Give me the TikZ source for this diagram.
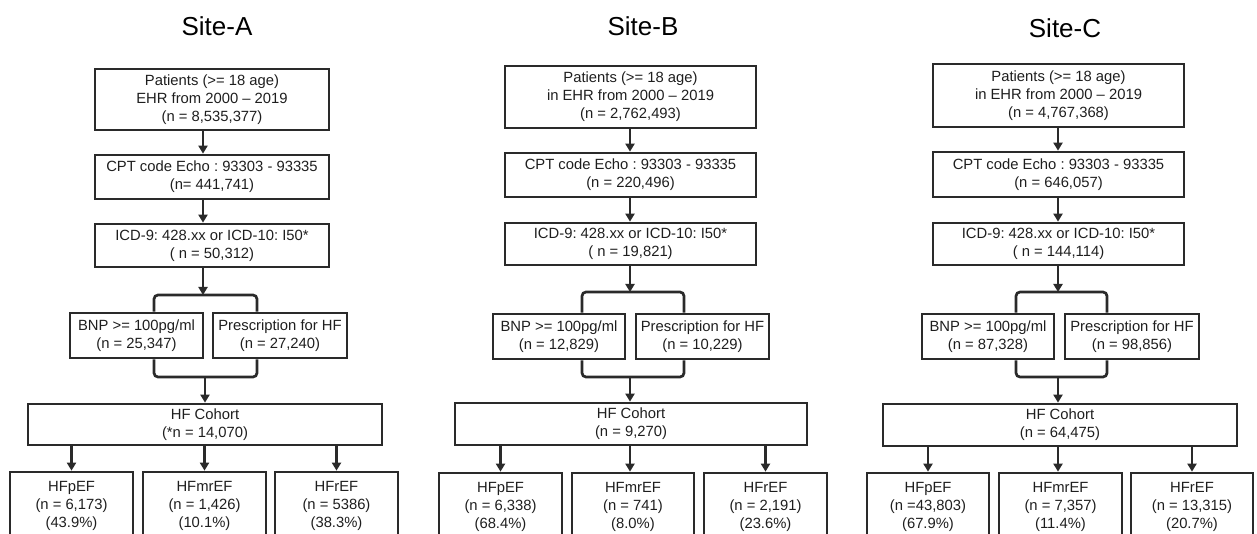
\documentclass[tikz,border=0pt]{standalone}
\usepackage{fontspec}
\setmainfont{Liberation Sans}
\usepackage{tikz}
\usetikzlibrary{arrows.meta,positioning,calc}
\frenchspacing
\definecolor{ink}{HTML}{1E1E1E}
\definecolor{frame}{HTML}{2A2A2A}
\tikzset{
    every picture/.style={line join=miter},
    flowbox/.style={draw=frame,line width=2.7pt,rectangle,inner sep=0pt,
      text=ink,align=center,font=\fontsize{14.8}{18}\selectfont},
    sitetitle/.style={text=black,font=\fontsize{26}{30}\selectfont,inner sep=0pt},
    link/.style={draw=frame,line width=2.7pt,rounded corners=4pt},
    arr/.style={-{Triangle[length=8pt,width=9pt]},draw=frame,line width=2.7pt}
}
\begin{document}
\begin{tikzpicture}[x=1pt,y=-1pt]
  \useasboundingbox (0,0) rectangle (1257,534);
  \clip (0,0) rectangle (1257,534);

  % Site-A
  \node[sitetitle] (titleA) at (217,26) {Site-A};
  \node[flowbox,minimum width=234pt,minimum height=61pt] (patA) at (212,99.5)
    {Patients (>= 18 age)\\EHR from 2000 – 2019\\(n = 8,535,377)};
  \node[flowbox,minimum width=234pt,minimum height=44pt] (cptA) at (212,177)
    {CPT code Echo : 93303 - 93335\\(n= 441,741)};
  \node[flowbox,minimum width=234pt,minimum height=43pt] (icdA) at (212,245.5)
    {ICD-9: 428.xx or ICD-10: I50*\\( n = 50,312)};
  \coordinate (tA) at (203,295);
  \node[flowbox,minimum width=133pt,minimum height=45pt] (bnpA) at (136.5,335.5)
    {BNP >= 100pg/ml\\(n = 25,347)};
  \node[flowbox,minimum width=134pt,minimum height=45pt] (rxA) at (280,335.5)
    {Prescription for HF\\(n = 27,240)};
  \coordinate (bA) at (205,377);
  \node[flowbox,minimum width=354pt,minimum height=41pt] (hfA) at (205,424.5)
    {HF Cohort\\(*n = 14,070)};
  \node[flowbox,minimum width=123pt,minimum height=68pt] (pefA) at (71.5,506)
    {HFpEF\\(n = 6,173)\\(43.9\%)};
  \node[flowbox,minimum width=123pt,minimum height=68pt] (mrA) at (204.5,506)
    {HFmrEF\\(n = 1,426)\\(10.1\%)};
  \node[flowbox,minimum width=123pt,minimum height=68pt] (refA) at (336.5,506)
    {HFrEF\\(n = 5386)\\(38.3\%)};
  \draw[arr] (patA.south -| tA) -- (cptA.north -| tA);
  \draw[arr] (cptA.south -| tA) -- (icdA.north -| tA);
  \draw[arr] (icdA.south -| tA) -- (tA);
  \draw[link] ([xshift=17.5pt]bnpA.north) |- (tA) -| ([xshift=-23pt]rxA.north);
  \draw[link] ([xshift=17.5pt]bnpA.south) |- (bA) -| ([xshift=-23pt]rxA.south);
  \draw[arr] (bA) -- (hfA.north -| bA);
  \draw[arr] (hfA.south -| pefA) -- (pefA.north);
  \draw[arr] (hfA.south -| mrA) -- (mrA.north);
  \draw[arr] (hfA.south -| refA) -- (refA.north);

  % Site-B
  \node[sitetitle] (titleB) at (643,26) {Site-B};
  \node[flowbox,minimum width=251pt,minimum height=62pt] (patB) at (630.5,97)
    {Patients (>= 18 age)\\in EHR from 2000 – 2019\\(n = 2,762,493)};
  \node[flowbox,minimum width=251pt,minimum height=44pt] (cptB) at (630.5,175)
    {CPT code Echo : 93303 - 93335\\(n = 220,496)};
  \node[flowbox,minimum width=251pt,minimum height=42pt] (icdB) at (630.5,244)
    {ICD-9: 428.xx or ICD-10: I50*\\( n = 19,821)};
  \coordinate (tB) at (630,292);
  \node[flowbox,minimum width=132pt,minimum height=45pt] (bnpB) at (559,336.5)
    {BNP >= 100pg/ml\\(n = 12,829)};
  \node[flowbox,minimum width=133pt,minimum height=45pt] (rxB) at (702.5,336.5)
    {Prescription for HF\\(n = 10,229)};
  \coordinate (bB) at (630,377);
  \node[flowbox,minimum width=352pt,minimum height=42pt] (hfB) at (631,424)
    {HF Cohort\\(n = 9,270)};
  \node[flowbox,minimum width=123pt,minimum height=68pt] (pefB) at (500.5,507)
    {HFpEF\\(n = 6,338)\\(68.4\%)};
  \node[flowbox,minimum width=122pt,minimum height=68pt] (mrB) at (633,507)
    {HFmrEF\\(n = 741)\\(8.0\%)};
  \node[flowbox,minimum width=123pt,minimum height=68pt] (refB) at (765.5,507)
    {HFrEF\\(n = 2,191)\\(23.6\%)};
  \draw[arr] (patB.south -| tB) -- (cptB.north -| tB);
  \draw[arr] (cptB.south -| tB) -- (icdB.north -| tB);
  \draw[arr] (icdB.south -| tB) -- (tB);
  \draw[link] ([xshift=23pt]bnpB.north) |- (tB) -| ([xshift=-18.5pt]rxB.north);
  \draw[link] ([xshift=23pt]bnpB.south) |- (bB) -| ([xshift=-18.5pt]rxB.south);
  \draw[arr] (bB) -- (hfB.north -| bB);
  \draw[arr] (hfB.south -| pefB) -- (pefB.north);
  \draw[arr] (hfB.south -| bB) -- (mrB.north -| bB);
  \draw[arr] (hfB.south -| refB) -- (refB.north);

  % Site-C
  \node[sitetitle] (titleC) at (1065,28) {Site-C};
  \node[flowbox,minimum width=251pt,minimum height=63pt] (patC) at (1058.5,95.5)
    {Patients (>= 18 age)\\in EHR from 2000 – 2019\\(n = 4,767,368)};
  \node[flowbox,minimum width=251pt,minimum height=45pt] (cptC) at (1058.5,174.5)
    {CPT code Echo : 93303 - 93335\\(n = 646,057)};
  \node[flowbox,minimum width=251pt,minimum height=42pt] (icdC) at (1058.5,244)
    {ICD-9: 428.xx or ICD-10: I50*\\( n = 144,114)};
  \coordinate (tC) at (1058,292);
  \node[flowbox,minimum width=132pt,minimum height=45pt] (bnpC) at (988,336.5)
    {BNP >= 100pg/ml\\(n = 87,328)};
  \node[flowbox,minimum width=134pt,minimum height=45pt] (rxC) at (1132,336.5)
    {Prescription for HF\\(n = 98,856)};
  \coordinate (bC) at (1058,377);
  \node[flowbox,minimum width=354pt,minimum height=42pt] (hfC) at (1060,425)
    {HF Cohort\\(n = 64,475)};
  \node[flowbox,minimum width=122pt,minimum height=68pt] (pefC) at (928,507)
    {HFpEF\\(n =43,803)\\(67.9\%)};
  \node[flowbox,minimum width=123pt,minimum height=68pt] (mrC) at (1060.5,507)
    {HFmrEF\\(n = 7,357)\\(11.4\%)};
  \node[flowbox,minimum width=122pt,minimum height=68pt] (refC) at (1192,507)
    {HFrEF\\(n = 13,315)\\(20.7\%)};
  \draw[arr] (patC.south -| tC) -- (cptC.north -| tC);
  \draw[arr] (cptC.south -| tC) -- (icdC.north -| tC);
  \draw[arr] (icdC.south -| tC) -- (tC);
  \draw[link] ([xshift=28pt]bnpC.north) |- (tC) -| ([xshift=-25pt]rxC.north);
  \draw[link] ([xshift=28pt]bnpC.south) |- (bC) -| ([xshift=-25pt]rxC.south);
  \draw[arr] (bC) -- (hfC.north -| bC);
  \draw[arr] (hfC.south -| pefC) -- (pefC.north);
  \draw[arr] (hfC.south -| bC) -- (mrC.north -| bC);
  \draw[arr] (hfC.south -| refC) -- (refC.north);
\end{tikzpicture}
\end{document}
